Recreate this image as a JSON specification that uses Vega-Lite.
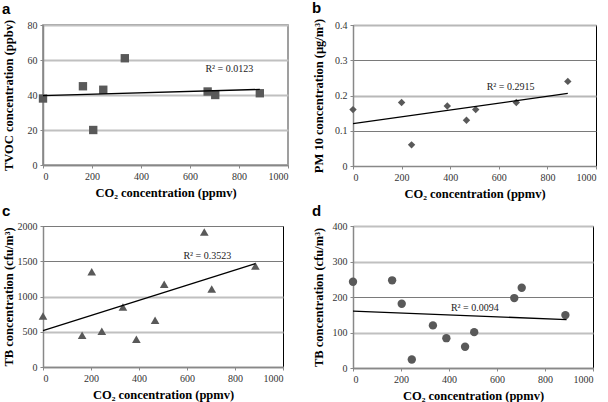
{
  "$schema": "https://vega.github.io/schema/vega-lite/v6.json",
  "autosize": {"type": "pad"},
  "padding": {"left": 1, "top": 0, "right": 0, "bottom": 0},
  "background": "white",
  "columns": 2,
  "bounds": "flush",
  "spacing": {"row": 60, "column": 65},
  "datasets": {
    "a_pts": [{"x":0,"y":38},{"x":163,"y":45},{"x":205,"y":20},{"x":246,"y":43},{"x":334,"y":61},{"x":672,"y":42},{"x":703,"y":40},{"x":885,"y":41}],
    "a_fit": [{"x":0,"y":39.6},{"x":885,"y":43.2}],
    "a_lab": [{"x":663,"y":55,"t":"R² = 0.0123"}],
    "b_pts": [{"x":0,"y":0.16},{"x":200,"y":0.18},{"x":241,"y":0.06},{"x":388,"y":0.17},{"x":467,"y":0.13},{"x":505,"y":0.16},{"x":672,"y":0.18},{"x":884,"y":0.24}],
    "b_fit": [{"x":0,"y":0.12},{"x":884,"y":0.206}],
    "b_lab": [{"x":550,"y":0.225,"t":"R² = 0.2915"}],
    "c_pts": [{"x":0,"y":723},{"x":163,"y":449},{"x":203,"y":1352},{"x":245,"y":506},{"x":333,"y":851},{"x":389,"y":392},{"x":467,"y":662},{"x":505,"y":1173},{"x":672,"y":1915},{"x":703,"y":1106},{"x":885,"y":1433}],
    "c_fit": [{"x":0,"y":515},{"x":885,"y":1466}],
    "c_lab": [{"x":585,"y":1574,"t":"R² = 0.3523"}],
    "d_pts": [{"x":0,"y":243},{"x":163,"y":247},{"x":203,"y":181},{"x":245,"y":24},{"x":333,"y":120},{"x":389,"y":84},{"x":467,"y":60},{"x":505,"y":101},{"x":672,"y":197},{"x":703,"y":226},{"x":885,"y":149}],
    "d_fit": [{"x":0,"y":160},{"x":890,"y":136.5}],
    "d_lab": [{"x":408,"y":169,"t":"R² = 0.0094"}]
  },
  "config": {
    "font": "Liberation Serif",
    "view": {"stroke": "black", "strokeWidth": 1},
    "axis": {
      "labelFont": "Liberation Serif",
      "labelFontSize": 10,
      "labelColor": "#333",
      "titleFont": "Liberation Serif",
      "titleFontSize": 12.5,
      "titleFontWeight": "bold",
      "titleColor": "black",
      "domainColor": "#888",
      "domainWidth": 1.5,
      "tickColor": "#888",
      "tickSize": 3,
      "labelPadding": 3,
      "tickCount": 12,
      "labelOverlap": false
    },
    "axisX": {"grid": false, "titlePadding": 5, "format": "d"},
    "axisY": {"gridColor": "#c0c0c0", "gridWidth": 2, "titlePadding": 6, "minExtent": 22, "maxExtent": 22},
    "title": {"font": "Liberation Sans", "fontSize": 15, "fontWeight": "bold", "anchor": "start", "color": "black", "offset": 2, "frame": "bounds"}
  },
  "concat": [
    {
      "width": 245, "height": 140,
      "view": {"stroke": "#808080", "strokeWidth": 1.5},
      "title": {"text": "a"},
      "layer": [
        {"data": {"name": "a_pts"}, "mark": {"type": "square", "size": 70, "color": "#595959", "opacity": 1},
         "encoding": {
           "x": {"field": "x", "type": "quantitative", "scale": {"domain": [0, 1000], "nice": false}, "axis": {"values": [0,200,400,600,800,1000], "title": "CO₂ concentration (ppmv)"}},
           "y": {"field": "y", "type": "quantitative", "scale": {"domain": [0, 80], "nice": false}, "axis": {"values": [0,20,40,60,80], "title": "TVOC concentration (ppbv)"}}}},
        {"data": {"name": "a_fit"}, "mark": {"type": "line", "color": "black", "strokeWidth": 1.3},
         "encoding": {"x": {"field": "x", "type": "quantitative"}, "y": {"field": "y", "type": "quantitative"}}},
        {"data": {"name": "a_lab"}, "mark": {"type": "text", "align": "left", "baseline": "middle", "fontSize": 10, "font": "Liberation Serif", "color": "#222"},
         "encoding": {"x": {"field": "x", "type": "quantitative"}, "y": {"field": "y", "type": "quantitative"}, "text": {"field": "t"}}}
      ]
    },
    {
      "width": 243, "height": 141,
      "title": {"text": "b"},
      "layer": [
        {"data": {"name": "b_pts"}, "mark": {"type": "point", "shape": "diamond", "filled": true, "size": 55, "color": "#595959", "opacity": 1},
         "encoding": {
           "x": {"field": "x", "type": "quantitative", "scale": {"domain": [0, 1000], "nice": false}, "axis": {"values": [0,200,400,600,800,1000], "title": "CO₂ concentration (ppmv)"}},
           "y": {"field": "y", "type": "quantitative", "scale": {"domain": [0, 0.4], "nice": false}, "axis": {"values": [0,0.1,0.2,0.3,0.4], "format": "~g", "title": "PM 10 concentration (µg/m³)",
             "gridColor": {"condition": {"test": "datum.value > 0.15 && datum.value < 0.25 || datum.value > 0.35", "value": "#b8b8b8"}, "value": "#7a7a7a"},
             "gridWidth": {"condition": {"test": "datum.value > 0.15 && datum.value < 0.25 || datum.value > 0.35", "value": 2}, "value": 1}}}}},
        {"data": {"name": "b_fit"}, "mark": {"type": "line", "color": "black", "strokeWidth": 1.3},
         "encoding": {"x": {"field": "x", "type": "quantitative"}, "y": {"field": "y", "type": "quantitative"}}},
        {"data": {"name": "b_lab"}, "mark": {"type": "text", "align": "left", "baseline": "middle", "fontSize": 10, "font": "Liberation Serif", "color": "#222"},
         "encoding": {"x": {"field": "x", "type": "quantitative"}, "y": {"field": "y", "type": "quantitative"}, "text": {"field": "t"}}}
      ]
    },
    {
      "width": 240, "height": 141,
      "title": {"text": "c"},
      "layer": [
        {"data": {"name": "c_pts"}, "mark": {"type": "point", "shape": "triangle-up", "filled": true, "size": 75, "color": "#595959", "opacity": 1},
         "encoding": {
           "x": {"field": "x", "type": "quantitative", "scale": {"domain": [0, 1000], "nice": false}, "axis": {"values": [0,200,400,600,800,1000], "title": "CO₂ concentration (ppmv)"}},
           "y": {"field": "y", "type": "quantitative", "scale": {"domain": [0, 2000], "nice": false}, "axis": {"values": [0,500,1000,1500,2000], "format": "d", "title": "TB concentration (cfu/m³)",
             "gridColor": {"condition": {"test": "datum.value == 1500 || datum.value == 2000", "value": "#7a7a7a"}, "value": "#c0c0c0"},
             "gridWidth": {"condition": {"test": "datum.value == 1500 || datum.value == 2000", "value": 1}, "value": 2}}}}},
        {"data": {"name": "c_fit"}, "mark": {"type": "line", "color": "black", "strokeWidth": 1.3},
         "encoding": {"x": {"field": "x", "type": "quantitative"}, "y": {"field": "y", "type": "quantitative"}}},
        {"data": {"name": "c_lab"}, "mark": {"type": "text", "align": "left", "baseline": "middle", "fontSize": 10, "font": "Liberation Serif", "color": "#222"},
         "encoding": {"x": {"field": "x", "type": "quantitative"}, "y": {"field": "y", "type": "quantitative"}, "text": {"field": "t"}}}
      ]
    },
    {
      "width": 240, "height": 142,
      "title": {"text": "d"},
      "layer": [
        {"data": {"name": "d_pts"}, "mark": {"type": "circle", "size": 70, "color": "#595959", "opacity": 1},
         "encoding": {
           "x": {"field": "x", "type": "quantitative", "scale": {"domain": [0, 1000], "nice": false}, "axis": {"values": [0,200,400,600,800,1000], "title": "CO₂ concentration (ppmv)"}},
           "y": {"field": "y", "type": "quantitative", "scale": {"domain": [0, 400], "nice": false}, "axis": {"values": [0,100,200,300,400], "title": "TB concentration (cfu/m³)",
             "gridColor": {"condition": {"test": "datum.value == 200", "value": "#7a7a7a"}, "value": "#c0c0c0"},
             "gridWidth": {"condition": {"test": "datum.value == 200", "value": 1}, "value": 2}}}}},
        {"data": {"name": "d_fit"}, "mark": {"type": "line", "color": "black", "strokeWidth": 1.3},
         "encoding": {"x": {"field": "x", "type": "quantitative"}, "y": {"field": "y", "type": "quantitative"}}},
        {"data": {"name": "d_lab"}, "mark": {"type": "text", "align": "left", "baseline": "middle", "fontSize": 10, "font": "Liberation Serif", "color": "#222"},
         "encoding": {"x": {"field": "x", "type": "quantitative"}, "y": {"field": "y", "type": "quantitative"}, "text": {"field": "t"}}}
      ]
    }
  ]
}
